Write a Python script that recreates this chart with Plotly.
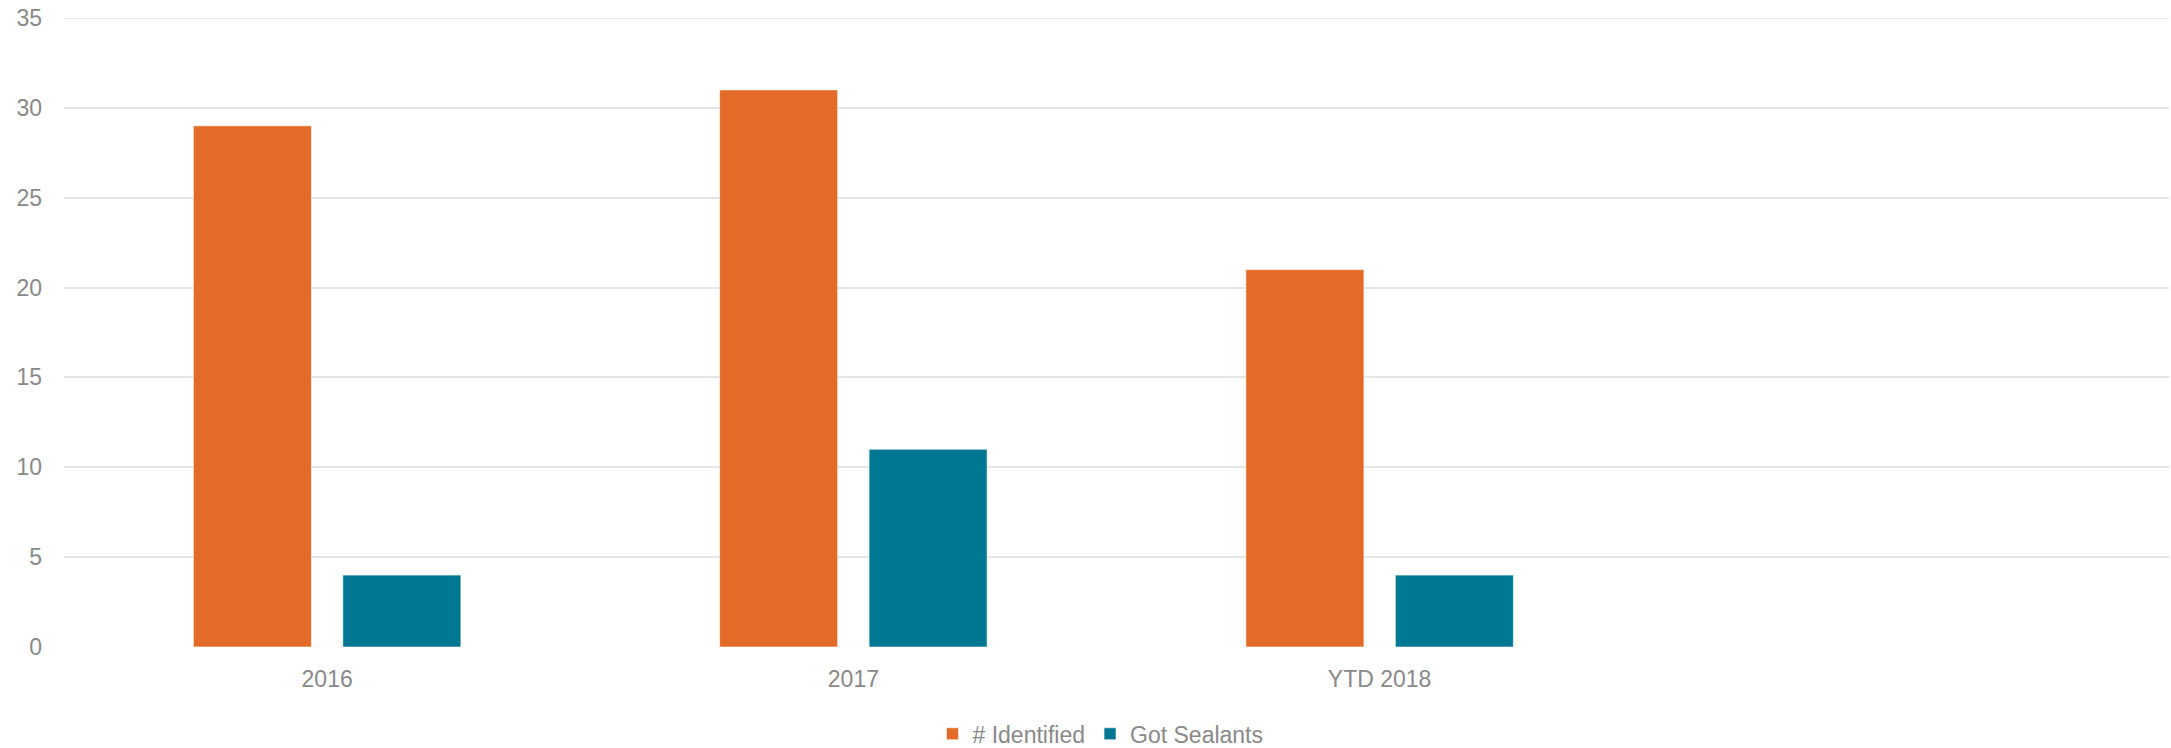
import plotly.graph_objects as go

categories = ["2016", "2017", "YTD 2018"]
identified = [29, 31, 21]
got_sealants = [4, 11, 4]
y_ticks = [0, 5, 10, 15, 20, 25, 30, 35]

x_pos = list(range(len(categories)))

fig = go.Figure()
fig.add_trace(go.Bar(
    x=x_pos, y=identified, name="# Identified",
    marker=dict(color="#E46A27", line=dict(color="rgba(255,255,255,0.6)", width=1)),
))
fig.add_trace(go.Bar(
    x=x_pos, y=got_sealants, name="Got Sealants",
    marker=dict(color="#007893", line=dict(color="rgba(255,255,255,0.6)", width=1)),
))

font_color = "#898989"
grid_color = "#e5e5e5"
fig.update_layout(
    width=2171, height=748,
    margin=dict(l=64, r=2, t=18, b=101, autoexpand=False),
    paper_bgcolor="white", plot_bgcolor="white",
    barmode="group", bargap=0.432, bargroupgap=0.21,
    font=dict(family="Liberation Sans, Arial, sans-serif", size=23, color=font_color),
    showlegend=True,
    legend=dict(orientation="h", x=0.4924, xanchor="center", y=-0.138, yanchor="middle",
                font=dict(size=23, color=font_color), itemwidth=30,
                traceorder="normal"),
    hovermode=False,
)
# top gridline at the edge of the range
fig.add_shape(type="line", xref="paper", x0=0, x1=1, yref="y", y0=y_ticks[-1], y1=y_ticks[-1],
              line=dict(color=grid_color, width=2), layer="below")
fig.update_xaxes(
    range=[-0.5, 3.5], tickvals=x_pos, ticktext=categories,
    showgrid=False, zeroline=False, showline=False, ticks="", automargin=False,
    ticklabelstandoff=16,
    tickfont=dict(size=23, color=font_color),
)
fig.update_yaxes(
    range=[0, 35], tickvals=y_ticks, showgrid=True, gridcolor=grid_color, gridwidth=2,
    zeroline=False, showline=False, ticks="", ticklabelstandoff=21, automargin=False,
    tickfont=dict(size=23, color=font_color),
)

fig.write_html("out.html", config={"displayModeBar": False},
               post_script="document.body.style.margin='0';document.body.style.overflow='hidden';")
